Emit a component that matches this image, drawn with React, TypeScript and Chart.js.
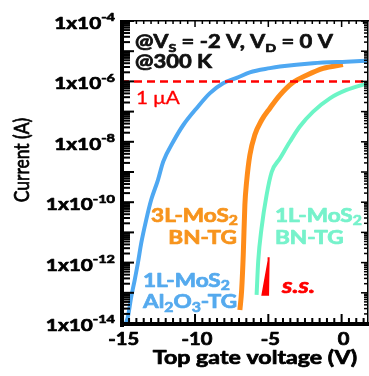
import React, { useEffect, useRef } from "react";
import { Chart, registerables } from "chart.js";

Chart.register(...registerables);

// ---------- data ----------
const xTickValues = [-15, -10, -5, 0];
const xTickLabels = ["-15", "-10", "-5", "0"];
const yTickExponents = [-4, -6, -8, -10, -12, -14];

// 1L-MoS2, Al2O3 top gate
const blueV = [-14.85, -14.71, -14.58, -14.35, -14.12, -13.9, -13.67, -13.33, -12.99, -12.53, -12.17, -11.49, -10.8, -9.89, -8.98, -8.08, -7.16, -6.26, -4.89, -4.21, -1.96, 0.34, 1.8];
const blueI = [5e-15, 1.0e-14, 1.6e-14, 7.4e-14, 2.6e-13, 9.5e-13, 4.4e-12, 2.6e-11, 1.2e-10, 5.4e-10, 2.2e-9, 1.0e-8, 3.6e-8, 1.3e-7, 4.1e-7, 8.7e-7, 1.3e-6, 2.0e-6, 2.75e-6, 3.1e-6, 4.0e-6, 4.5e-6, 4.8e-6];

// 3L-MoS2, BN top gate
const orangeV = [-6.94, -6.82, -6.71, -6.6, -6.48, -6.26, -5.92, -5.46, -4.89, -4.21, -3.3, -2.39, -1.26, 0.09];
const orangeI = [2.7e-14, 1.2e-13, 1.8e-12, 8.1e-11, 4.8e-10, 3.6e-9, 1.7e-8, 5.2e-8, 1.3e-7, 3.5e-7, 9.3e-7, 1.6e-6, 2.7e-6, 3.6e-6];

// 1L-MoS2, BN top gate
const greenV = [-5.8, -5.69, -5.46, -5.12, -4.77, -4.21, -3.53, -2.85, -1.94, -0.8, 0.34, 1.8];
const greenI = [8.5e-14, 1.1e-12, 1.4e-11, 1.7e-10, 1.0e-9, 2.8e-9, 1.0e-8, 3.2e-8, 1.0e-7, 2.75e-7, 5.2e-7, 8.7e-7];

// subthreshold-slope triangle
const ssV = [-4.96, -5.0, -5.42, -4.96];
const ssI = [1.5e-12, 8.5e-14, 8.5e-14, 1.5e-12];

// 1 uA reference
const thresholdI = 1e-6;
const xMin = -15.05;
const xMax = 1.8;
const yMin = 1e-14;
const yMax = 1e-4;

// ---------- drawing helpers ----------
const SX = 1.22;
const FONT = "Lato, 'Open Sans', sans-serif";
type Part = [string, number, number]; // text, size ratio, dy ratio

function fontStr(style: string, size: number) {
  return `${style} ${size}px ${FONT}`;
}

function drawRich(
  ctx: CanvasRenderingContext2D,
  parts: Part[],
  x: number,
  baseline: number,
  align: "left" | "right" | "center",
  size: number,
  style: string,
  color: string,
  thicken = 0
) {
  let w = 0;
  for (const [t, r] of parts) {
    ctx.font = fontStr(style, size * r);
    w += ctx.measureText(t).width;
  }
  w *= SX;
  const x0 = align === "left" ? x : align === "right" ? x - w : x - w / 2;
  ctx.save();
  ctx.translate(x0, baseline);
  ctx.scale(SX, 1);
  ctx.fillStyle = color;
  ctx.strokeStyle = color;
  ctx.lineWidth = thicken;
  ctx.lineJoin = "round";
  ctx.textAlign = "left";
  ctx.textBaseline = "alphabetic";
  let cx = 0;
  for (const [t, r, d] of parts) {
    ctx.font = fontStr(style, size * r);
    ctx.fillText(t, cx, d * size);
    if (thicken > 0) ctx.strokeText(t, cx, d * size);
    cx += ctx.measureText(t).width;
  }
  ctx.restore();
}

const BLUE = "#4ea8f2";
const ORANGE = "#ff8c1a";
const GREEN = "#6cf5c6";
const BLUE_T = "#55aaee";
const ORANGE_T = "#f7941d";
const GREEN_T = "#76f2cb";
const RED = "#ff0000";
const TH = 0.7;

const framePlugin = {
  id: "frameAndText",
  afterDraw(chart: any) {
    const { ctx, chartArea: a, scales } = chart;
    const xs = scales.x;
    const ys = scales.y;
    ctx.save();
    ctx.fillStyle = "#000";
    // frame
    ctx.fillRect(a.left - 1, a.top - 1, 4, a.bottom - a.top + 5);
    ctx.fillRect(a.left - 1, a.bottom - 1, a.right - a.left + 2, 4);
    ctx.fillRect(a.left, a.top - 1, a.right - a.left + 1, 1.5);
    ctx.fillRect(a.right - 1, a.top - 1, 1.5, a.bottom - a.top + 1);
    // y ticks
    for (let e = -14; e <= -4; e++) {
      for (let k = 1; k <= 9; k++) {
        if (e === -4 && k > 1) break;
        const py = ys.getPixelForValue(k * Math.pow(10, e));
        const major = k === 1;
        ctx.fillRect(a.left + 2, py - 1, major ? 11 : 7, 2);
        ctx.fillRect(a.right - (major ? 7 : 4), py - 0.75, major ? 7 : 4, 1.5);
      }
    }
    // x ticks
    for (let i = -30; i <= 3; i++) {
      const px = xs.getPixelForValue(i / 2);
      const major = i % 10 === 0;
      ctx.fillRect(px - 1, a.bottom - (major ? 9 : 5), 2, major ? 9 : 5);
      ctx.fillRect(px - 0.75, a.top, 1.5, major ? 6 : 3);
    }
    ctx.restore();

    // y tick labels
    for (const e of yTickExponents) {
      const py = ys.getPixelForValue(Math.pow(10, e));
      drawRich(ctx, [["1x10", 1, 0], [String(e), 0.7, -0.45]], 115, py + 8, "right", 17, "bold", "#000", TH);
    }
    // x tick labels
    xTickValues.forEach((v, i) => {
      const px = xs.getPixelForValue(v);
      drawRich(ctx, [[xTickLabels[i], 1, 0]], px + 2, 345, "center", 16.5, "bold", "#000", TH);
    });
    // axis titles
    drawRich(ctx, [["Top gate voltage (V)", 1, 0]], 255, 364, "center", 19, "bold", "#000", TH);
    ctx.save();
    ctx.translate(22, 160);
    ctx.scale(SX, 1);
    ctx.rotate(-Math.PI / 2);
    ctx.font = fontStr("normal", 17.5);
    ctx.fillStyle = "#000";
    ctx.strokeStyle = "#000";
    ctx.lineWidth = 0.6;
    ctx.textAlign = "center";
    ctx.textBaseline = "middle";
    ctx.fillText("Current (A)", 0, 0);
    ctx.strokeText("Current (A)", 0, 0);
    ctx.restore();

    // annotations
    drawRich(ctx, [["@V", 1, 0], ["S", 0.65, 0.2], [" = -2 V, V", 1, 0], ["D", 0.65, 0.2], [" = 0 V", 1, 0]], 135, 48, "left", 18, "bold", "#111", TH);
    drawRich(ctx, [["@300 K", 1, 0]], 135, 68, "left", 18, "bold", "#111", TH);
    drawRich(ctx, [["1 μA", 1, 0]], 136, 103.5, "left", 17, "normal", RED, 0.3);
    drawRich(ctx, [["3L-MoS", 1, 0], ["2", 0.7, 0.2]], 238, 221.5, "right", 18.5, "bold", ORANGE_T, TH);
    drawRich(ctx, [["BN-TG", 1, 0]], 237, 244, "right", 18.5, "bold", ORANGE_T, TH);
    drawRich(ctx, [["1L-MoS", 1, 0], ["2", 0.7, 0.2]], 275, 221.5, "left", 18.5, "bold", GREEN_T, TH);
    drawRich(ctx, [["BN-TG", 1, 0]], 275, 244, "left", 18.5, "bold", GREEN_T, TH);
    drawRich(ctx, [["1L-MoS", 1, 0], ["2", 0.7, 0.2]], 143, 286.5, "left", 18.5, "bold", BLUE_T, TH);
    drawRich(ctx, [["Al", 1, 0], ["2", 0.7, 0.2], ["O", 1, 0], ["3", 0.7, 0.2], ["-TG", 1, 0]], 143, 308, "left", 18.5, "bold", BLUE_T, TH);
    drawRich(ctx, [["s.s.", 1, 0]], 282, 293, "left", 21, "italic bold", RED, TH);
  },
};

function pts(xv: number[], yv: number[]) {
  return xv.map((v, i) => ({ x: v, y: yv[i] }));
}

export default function App() {
  const ref = useRef<HTMLCanvasElement | null>(null);
  useEffect(() => {
    document.body.style.margin = "0";
    if (!ref.current) return;
    const chart = new Chart(ref.current, {
      type: "line",
      data: {
        datasets: [
          {
            data: [{ x: xMin, y: thresholdI }, { x: xMax, y: thresholdI }],
            borderColor: RED,
            borderWidth: 2.5,
            borderDash: [8, 5],
            order: 0,
          },
          {
            data: pts(ssV, ssI),
            borderColor: RED,
            backgroundColor: RED,
            borderWidth: 1.5,
            fill: "shape",
            tension: 0,
            order: 1,
          },
          {
            data: pts(blueV, blueI),
            borderColor: BLUE,
            borderWidth: 4,
            cubicInterpolationMode: "monotone",
            order: 2,
          },
          {
            data: pts(greenV, greenI),
            borderColor: GREEN,
            borderWidth: 4,
            cubicInterpolationMode: "monotone",
            order: 3,
          },
          {
            data: pts(orangeV, orangeI),
            borderColor: ORANGE,
            borderWidth: 5,
            cubicInterpolationMode: "monotone",
            order: 4,
          },
        ],
      } as any,
      options: {
        animation: false,
        responsive: false,
        layout: { padding: { left: 121, top: 21, right: 1, bottom: 53 } },
        plugins: { legend: { display: false }, tooltip: { enabled: false } },
        elements: { point: { radius: 0 } },
        scales: {
          x: { type: "linear", min: xMin, max: xMax, display: false },
          y: { type: "logarithmic", min: yMin, max: yMax, display: false },
        },
      } as any,
      plugins: [framePlugin],
    });
    return () => chart.destroy();
  }, []);
  return (
    <div style={{ width: 369, height: 376 }}>
      <canvas ref={ref} width={369} height={376} style={{ display: "block" }} />
    </div>
  );
}
